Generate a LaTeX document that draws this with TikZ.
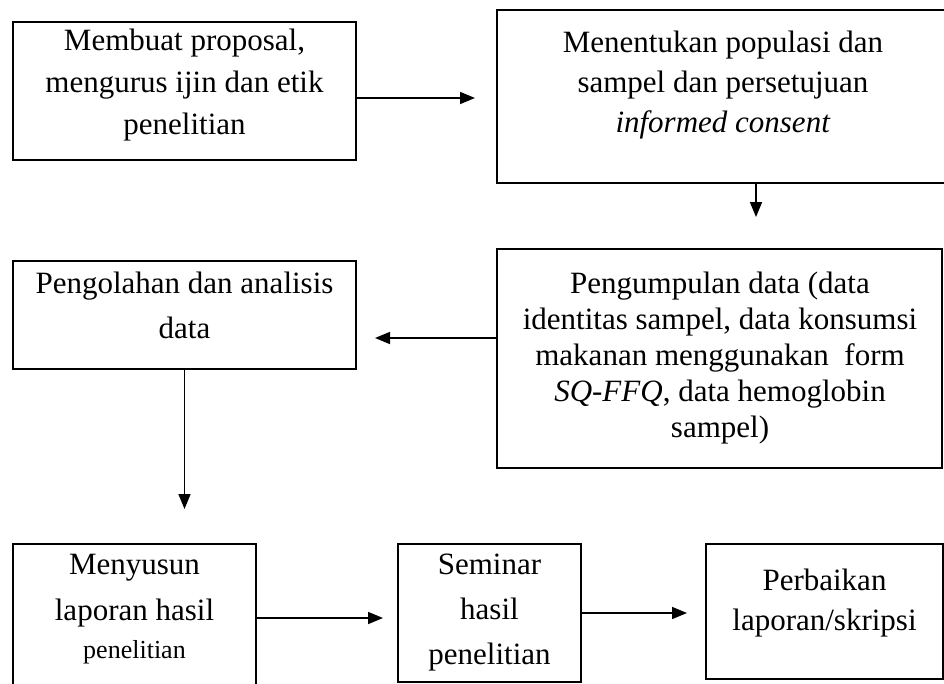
\documentclass[tikz,border=0pt]{standalone}
\usepackage{fontspec}
\setmainfont{Liberation Serif}
\usetikzlibrary{arrows.meta}
\tikzset{
  box/.style={draw=black, line width=1.6pt, inner sep=0pt, fill=none},
  txt/.style={inner sep=0pt, align=center, anchor=center},
  arr/.style={line width=1.6pt, -{Triangle[length=15pt,width=12pt]}},
}
\begin{document}
\begin{tikzpicture}[x=1pt,y=-1pt]
\useasboundingbox (0,0) rectangle (944,683);
\clip (0,0) rectangle (944,683);
% boxes
\node[box, minimum width=343, minimum height=138] (b1) at (184.5,91) {};
\node[box, minimum width=455, minimum height=173] (b2) at (724.5,96.5) {};
\node[box, minimum width=445, minimum height=219] (b3) at (719.5,358.5) {};
\node[box, minimum width=343, minimum height=108] (b4) at (184.5,315) {};
\node[box, minimum width=243, minimum height=156] (b5) at (134.5,622) {};
\node[box, minimum width=183, minimum height=138] (b6) at (489.5,613) {};
\node[box, minimum width=237, minimum height=135] (b7) at (824.5,611.5) {};
% texts
\node[txt, font=\fontsize{31}{42}\selectfont] (t1) at (184.5,85.5) {Membuat proposal,\\mengurus ijin dan etik\\penelitian};
\node[txt, font=\fontsize{31}{40}\selectfont] (t2) at (723,85) {Menentukan populasi dan\\sampel dan persetujuan\\\textit{informed consent}};
\node[txt, font=\fontsize{31}{36}\selectfont] (t3) at (720,358.5) {Pengumpulan data (data\\identitas sampel, data konsumsi\\makanan menggunakan\ \ form\\\textit{SQ-FFQ}, data hemoglobin\\sampel)};
\node[txt, font=\fontsize{31}{45}\selectfont] (t4) at (184.5,305.5) {Pengolahan dan analisis\\data};
\node[txt, font=\fontsize{31}{46}\selectfont] (t5) at (134.5,609) {Menyusun\\laporan hasil\\[-8pt]{\fontsize{26}{30}\selectfont penelitian}};
\node[txt, font=\fontsize{31}{45}\selectfont] (t6) at (489.5,612.5) {Seminar\\hasil\\penelitian};
\node[txt, font=\fontsize{31}{40}\selectfont] (t7) at (824.5,603) {Perbaikan\\laporan/skripsi};
% arrow end points
\coordinate (k1) at (475,98);
\coordinate (k2) at (756,217);
\coordinate (k3) at (375,338);
\coordinate (k4) at (184.5,509);
\coordinate (k5) at (383,618);
\coordinate (k6) at (687,613);
% connectors
\draw[arr] (b1.east |- k1) -- (k1);
\draw[arr] (b2.south -| k2) -- (k2);
\draw[arr] (b3.west |- k3) -- (k3);
\draw[arr] (b4.south) -- (k4);
\draw[arr] (b5.east |- k5) -- (k5);
\draw[arr] (b6.east |- k6) -- (k6);
\end{tikzpicture}
\end{document}
